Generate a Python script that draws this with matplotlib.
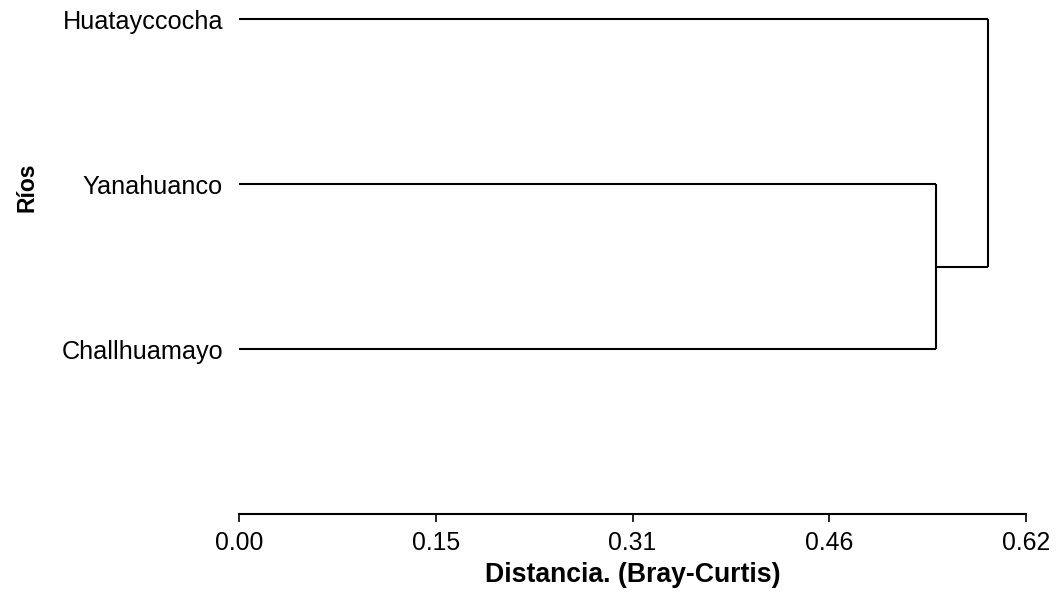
import matplotlib
matplotlib.use("Agg")
import matplotlib.pyplot as plt
import numpy as np

plt.rcParams['font.family'] = ['Liberation Sans', 'DejaVu Sans']

# Data
leaves = ["Huatayccocha", "Yanahuanco", "Challhuamayo"]
leaf_pos = [3, 2, 1]
merge1_height = 0.549   # Yanahuanco + Challhuamayo
merge2_height = 0.590   # Huatayccocha + (Yanahuanco, Challhuamayo)
x_max = 0.62
tick_values = [0.0, 0.155, 0.31, 0.465, 0.62]
tick_labels = ["0.00", "0.15", "0.31", "0.46", "0.62"]

W, H = 1059, 597
fig = plt.figure(figsize=(W / 100, H / 100), dpi=100)
ax = fig.add_axes([239 / W, 1 - 514 / H, (1026 - 239) / W, (514 - 19) / H])

lw = 1.5
kw = dict(color="black", lw=lw, clip_on=False, solid_capstyle="butt")
y_y, y_c = leaf_pos[1], leaf_pos[2]
ax.plot([0, merge1_height], [y_y, y_y], **kw)
ax.plot([0, merge1_height], [y_c, y_c], **kw)
ax.plot([merge1_height, merge1_height], [y_c, y_y], **kw)
node1 = (y_y + y_c) / 2
y_h = leaf_pos[0]
ax.plot([0, merge2_height], [y_h, y_h], **kw)
ax.plot([merge1_height, merge2_height], [node1, node1], **kw)
ax.plot([merge2_height, merge2_height], [node1, y_h], **kw)

ax.set_xlim(0, x_max)
ax.set_ylim(0, 3)
for s in ["top", "right", "left"]:
    ax.spines[s].set_visible(False)
ax.spines["bottom"].set_linewidth(1.5)

ax.set_xticks(tick_values)
ax.set_xticklabels(tick_labels, fontsize=17.8)
ax.tick_params(axis="x", direction="out", length=6, width=1.2, pad=6)

ax.set_yticks(leaf_pos)
ax.set_yticklabels(leaves, fontsize=18.2)
ax.tick_params(axis="y", length=0, pad=11.5)

fig.text(633 / W, 1 - 582 / H, "Distancia. (Bray-Curtis)", fontsize=19.2,
         fontweight="bold", ha="center", va="baseline")
fig.text(27 / W, 1 - 187 / H, "Ríos", rotation=90, fontsize=16.5, fontweight="bold",
         ha="center", va="center")

fig.savefig("out.png", dpi=100)
